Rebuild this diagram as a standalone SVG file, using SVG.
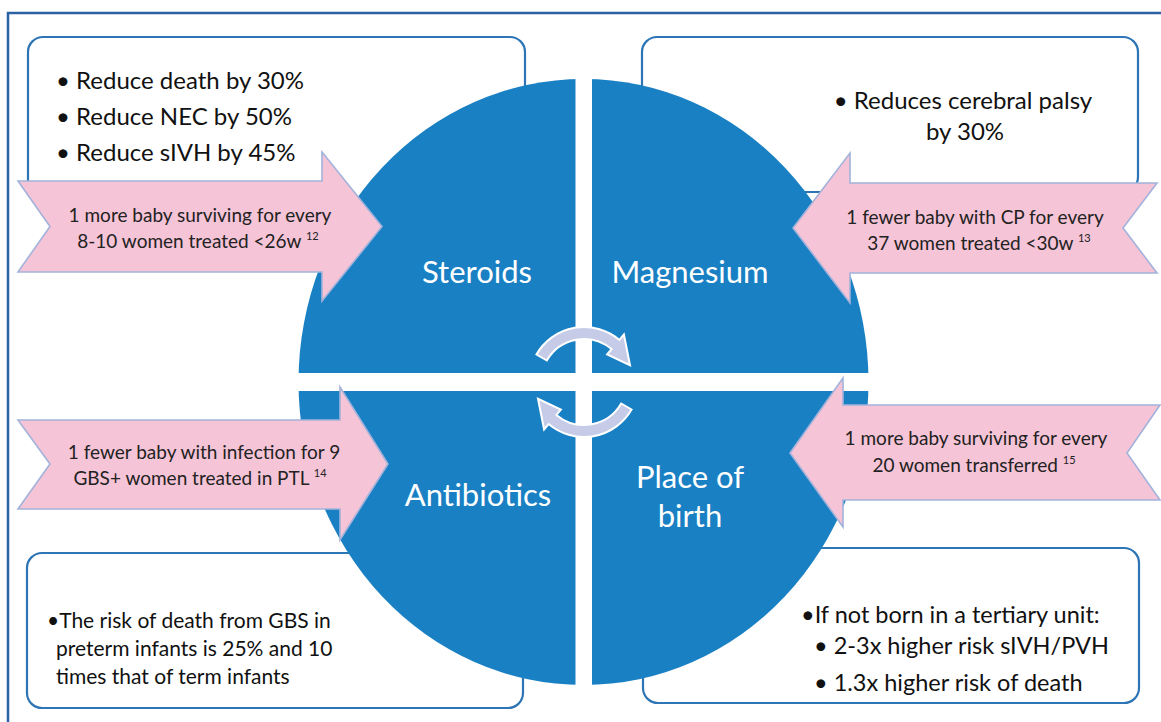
<svg xmlns="http://www.w3.org/2000/svg" width="1161" height="722" viewBox="0 0 1161 722">
<defs>
<style>
.box{fill:#fff;stroke:#2e75b6;stroke-width:2.2}
.quad{fill:#1a80c4}
.pink{fill:#f6c4d7;stroke:#a3b2da;stroke-width:1.6}
.cyc{fill:#c6cce8;stroke:#ffffff;stroke-width:2}
.t{font-family:Lato,"Open Sans","Liberation Sans",sans-serif;fill:#111}
.bx{font-size:24px}
.ar{font-size:19px;fill:#222;text-anchor:middle}
.ql{font-size:31px;fill:#fff;text-anchor:middle}
.sup{font-size:11px}
</style>
<clipPath id="ell"><ellipse cx="583.5" cy="382" rx="285" ry="303"/></clipPath>
</defs>
<rect x="0" y="0" width="1161" height="722" fill="#fff"/>
<rect x="8" y="13" width="1180" height="740" fill="none" stroke="#2a62a3" stroke-width="2.5"/>

<g id="box-steroids">
<rect class="box" x="28" y="37" width="497" height="163" rx="15"/>
<text class="t bx" x="56" y="89">• Reduce death by 30%</text>
<text class="t bx" x="56" y="125">• Reduce NEC by 50%</text>
<text class="t bx" x="56" y="161">• Reduce sIVH by 45%</text>
</g>
<g id="box-magnesium">
<rect class="box" x="642" y="37" width="496" height="155" rx="15"/>
<text class="t bx" x="963" y="109" text-anchor="middle">• Reduces cerebral palsy</text>
<text class="t bx" x="965" y="140" text-anchor="middle">by 30%</text>
</g>
<g id="box-antibiotics">
<rect class="box" x="27" y="553" width="496" height="155" rx="15"/>
<text class="t" font-size="21" x="47" y="628">•The risk of death from GBS in</text>
<text class="t" font-size="21" x="56" y="656">preterm infants is 25% and 10</text>
<text class="t" font-size="21" x="56" y="684">times that of term infants</text>
</g>
<g id="box-place">
<rect class="box" x="643" y="548" width="496" height="155" rx="15"/>
<text class="t" font-size="23.5" x="801" y="623">•If not born in a tertiary unit:</text>
<text class="t" font-size="23.5" x="814" y="654">• 2-3x higher risk sIVH/PVH</text>
<text class="t" font-size="23.5" x="814" y="691">• 1.3x higher risk of death</text>
</g>

<g id="circle" clip-path="url(#ell)">
<g id="q-steroids"><rect class="quad" x="290" y="70" width="285.5" height="303"/><text class="t ql" x="477" y="283">Steroids</text></g>
<g id="q-magnesium"><rect class="quad" x="592" y="70" width="290" height="303"/><text class="t ql" x="690" y="283">Magnesium</text></g>
<g id="q-antibiotics"><rect class="quad" x="290" y="391" width="285.5" height="300"/><text class="t ql" x="478" y="506">Antibiotics</text></g>
<g id="q-place"><rect class="quad" x="592" y="391" width="290" height="300"/><text class="t ql" x="690" y="488">Place of</text><text class="t ql" x="690" y="527">birth</text></g>
</g>

<g id="arrow-steroids">
<polygon class="pink" points="18,181 322,181 322,152 382,226.5 322,301 322,272 18,272 50,226.5"/>
<text class="t ar" x="200" y="222">1 more baby surviving for every</text>
<text class="t ar" x="198" y="248">8-10 women treated &lt;26w <tspan class="sup" dy="-8">12</tspan></text>
</g>
<g id="arrow-magnesium">
<polygon class="pink" points="1157,183 850,183 850,153 793,228 850,303 850,273 1157,273 1123,228"/>
<text class="t ar" x="975" y="224">1 fewer baby with CP for every</text>
<text class="t ar" x="979" y="250">37 women treated &lt;30w <tspan class="sup" dy="-8">13</tspan></text>
</g>
<g id="arrow-antibiotics">
<polygon class="pink" points="18,420 340,420 340,387 388,464 340,540 340,509 18,509 50,464"/>
<text class="t ar" x="204" y="459">1 fewer baby with infection for 9</text>
<text class="t ar" x="200" y="485">GBS+ women treated in PTL <tspan class="sup" dy="-8">14</tspan></text>
</g>
<g id="arrow-place">
<polygon class="pink" points="1160,405 843,405 843,378 790,453 843,527 843,500 1160,500 1127,453"/>
<text class="t ar" x="976" y="445">1 more baby surviving for every</text>
<text class="t ar" x="974" y="472">20 women transferred <tspan class="sup" dy="-8">15</tspan></text>
</g>

<g id="connectors">
<path class="cyc" d="M536.4 354.5 A55 55 0 0 1 619.4 339.9 L623.9 334.5 L630 365.2 L607.1 354.4 L611.6 349.1 A43 43 0 0 0 546.8 360.5 Z"/>
<path class="cyc" transform="rotate(180 584 382)" d="M536.4 354.5 A55 55 0 0 1 619.4 339.9 L623.9 334.5 L630 365.2 L607.1 354.4 L611.6 349.1 A43 43 0 0 0 546.8 360.5 Z"/>
</g>
</svg>
